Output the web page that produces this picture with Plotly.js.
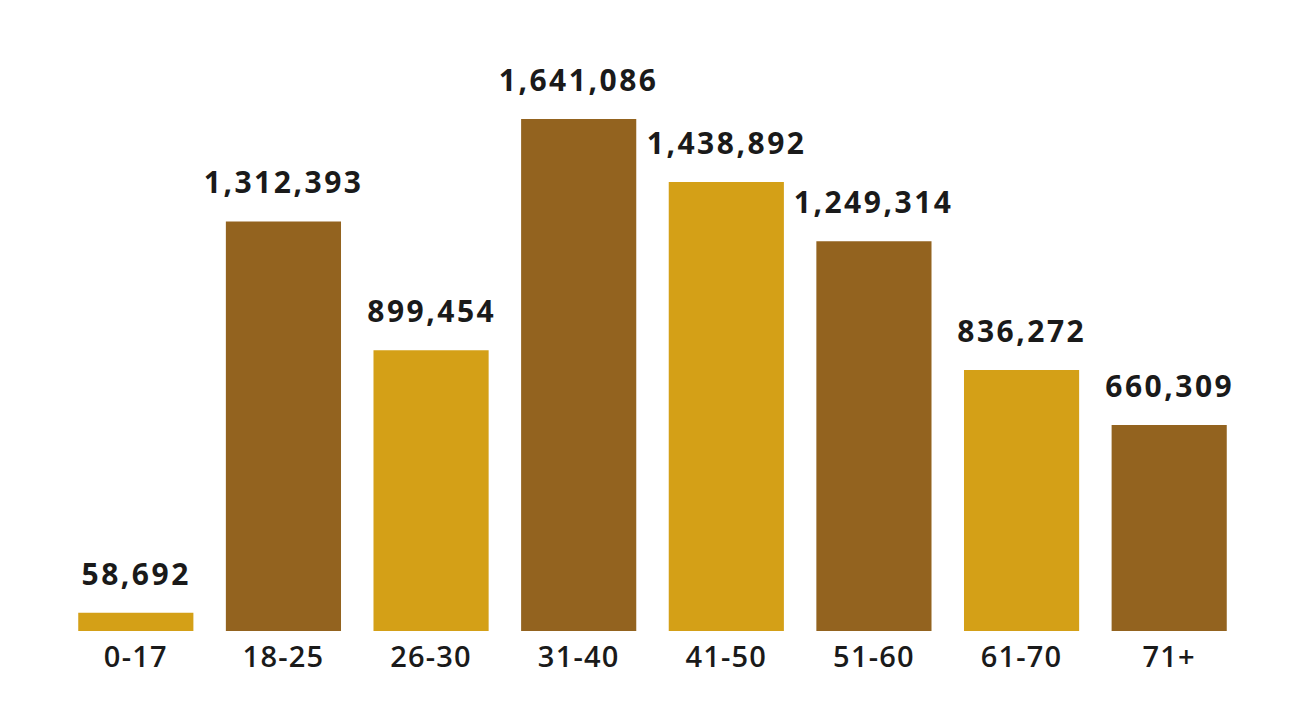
<!DOCTYPE html>
<html><head><meta charset="utf-8">
<script src="https://cdn.plot.ly/plotly-3.0.1.min.js"></script>
<style>html,body{margin:0;padding:0;background:#fff}#chart{width:1299px;height:704px}
#chart .annotation-text{letter-spacing:2.5px}
#chart .xtick text{letter-spacing:1.2px}
</style>
</head><body><div id="chart"></div>
<script>
const categories = ["0-17","18-25","26-30","31-40","41-50","51-60","61-70","71+"];
const values = [58692,1312393,899454,1641086,1438892,1249314,836272,660309];
const colors = ["#D4A017","#93631F","#D4A017","#93631F","#D4A017","#93631F","#D4A017","#93631F"];
const fmt = v => v.toLocaleString("en-US");
const annotations = categories.map((c,i)=>({
  x:c, y:values[i], xref:"x", yref:"y", text:fmt(values[i]), showarrow:false,
  yanchor:"bottom", yshift:17,
  font:{family:"Open Sans", size:30, color:"#1a1a1a", weight:700}
}));
Plotly.newPlot("chart",[{
  type:"bar", x:categories, y:values, marker:{color:colors}, hoverinfo:"skip"
}],{
  width:1299, height:704,
  margin:{l:62,r:56,t:20,b:73},
  paper_bgcolor:"#fff", plot_bgcolor:"#fff",
  bargap:0.22, showlegend:false,
  xaxis:{showgrid:false, zeroline:false, showline:false, ticks:"",
    tickfont:{family:"Open Sans", size:29, color:"#1a1a1a", weight:600}, ticklabelstandoff:6},
  yaxis:{visible:false, range:[0,1958000]},
  annotations:annotations
},{staticPlot:true});
</script></body></html>
